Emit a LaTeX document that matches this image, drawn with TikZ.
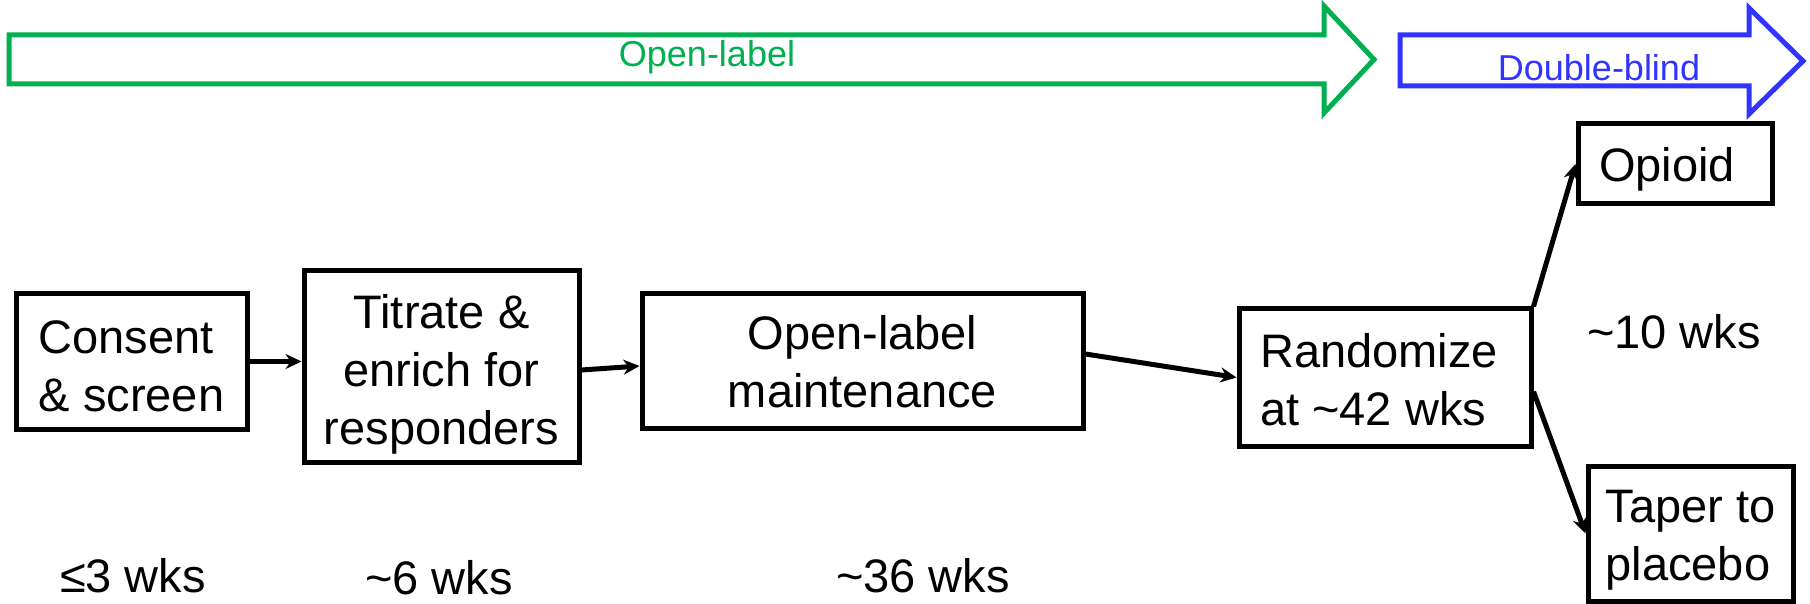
\documentclass[tikz,border=0pt]{standalone}
\usepackage{fontspec}
\setmainfont{Liberation Sans}
\usetikzlibrary{arrows.meta,calc}
\definecolor{olgreen}{RGB}{0,176,80}
\definecolor{dbblue}{RGB}{51,51,255}
\begin{document}
\begin{tikzpicture}[x=0.5pt,y=-0.5pt,
  box/.style={draw=black,line width=2.5pt,inner sep=0pt},
  txt/.style={inner sep=0pt,align=center,font=\fontsize{23.5}{29}\selectfont},
  lbl/.style={inner sep=0pt,font=\fontsize{23.5}{29}\selectfont},
  conn/.style={line width=2.5pt,-{Stealth[length=8pt,width=7.5pt]}},
  phase/.style={line width=2.5pt,line join=miter,fill=white}]
\useasboundingbox (0,0) rectangle (1810,604);
% phase arrows
\draw[phase,draw=olgreen] (9,35) -- (1324,35) -- (1324,6) -- (1374,59.5) -- (1324,113) -- (1324,84) -- (9,84) -- cycle;
\node[inner sep=0pt,text=olgreen,font=\fontsize{18}{22}\selectfont] (ol) at (707,57) {Open-label};
\draw[phase,draw=dbblue] (1400,35) -- (1749,35) -- (1749,8) -- (1803,61) -- (1749,114) -- (1749,86) -- (1400,86) -- cycle;
\node[inner sep=0pt,text=dbblue,font=\fontsize{18}{22}\selectfont] (db) at (1599,68) {Double-blind};
% boxes
\node[box,minimum width=115.5pt,minimum height=67.5pt] (consent) at (131.5,361.5) {};
\node[txt,align=left] (consentT) at ([yshift=-2.5pt]consent.center) {Consent\\\& screen};
\node[box,minimum width=137.5pt,minimum height=95.5pt] (titrate) at (441.5,366.5) {};
\node[txt] (titrateT) at ([yshift=-4pt]titrate.center) {Titrate \&\\enrich for\\responders};
\node[box,minimum width=220.5pt,minimum height=67pt] (olm) at (862.5,361) {};
\node[txt] (olmT) at ([yshift=-0.5pt]olm.center) {Open-label\\maintenance};
\node[box,minimum width=146pt,minimum height=68.5pt] (rand) at (1385,377.5) {};
\node[txt,align=left] (randT) at ([xshift=-3pt,yshift=-1pt]rand.center) {Randomize\\at \textasciitilde42 wks};
\node[box,minimum width=97pt,minimum height=40pt] (opioid) at (1675,164) {};
\node[txt] (opioidT) at ([xshift=-4pt,yshift=-2.5pt]opioid.center) {Opioid};
\node[box,minimum width=102.5pt,minimum height=67.5pt] (taper) at (1690.5,533.5) {};
\node[txt,align=left] (taperT) at ([yshift=-3.5pt]taper.center) {Taper to\\placebo};
% durations
\node[lbl] (w3) at (133,576) {≤3 wks};
\node[lbl] (w6) at (439,578) {\textasciitilde6 wks};
\node[lbl] (w36) at (923,576) {\textasciitilde36 wks};
\node[lbl] (w10) at (1674,332) {\textasciitilde10 wks};
% connectors
\draw[conn] (consent.east) -- (consent.east -| titrate.west);
\draw[conn] ([yshift=-1.75pt]titrate.east) -- ([yshift=-2.5pt]olm.west);
\draw[conn] ([yshift=3.5pt]olm.east) -- (rand.west);
\draw[conn] (rand.north east) -- (opioid.west);
\draw[conn] ([yshift=-7pt]rand.east) -- (taper.west);
\end{tikzpicture}
\end{document}
